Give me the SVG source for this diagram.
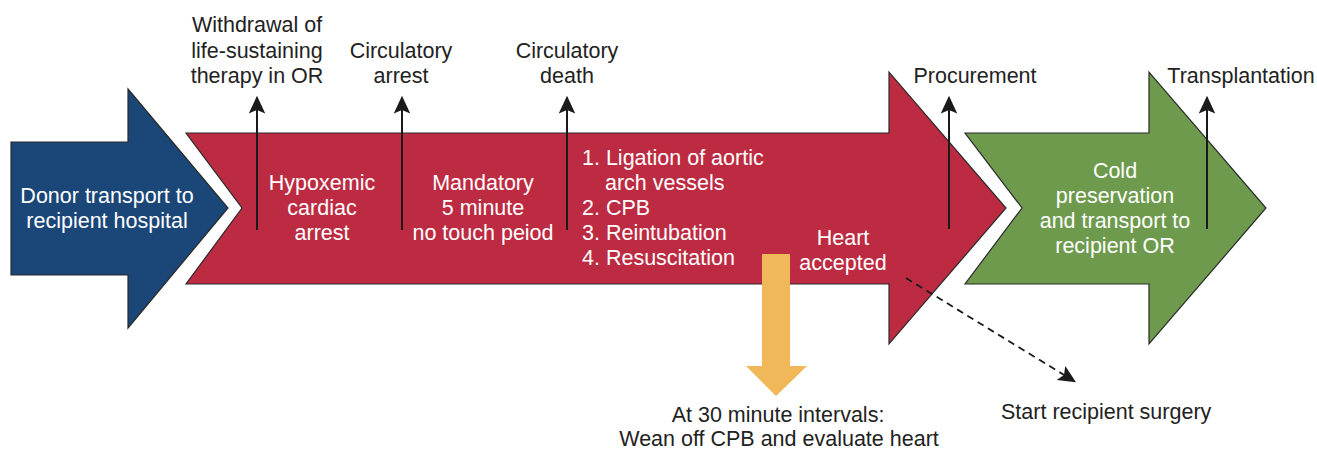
<svg xmlns="http://www.w3.org/2000/svg" width="1317" height="450" viewBox="0 0 1317 450">
  <style>
    .stage { stroke: #2a2a2a; stroke-width: 1.2; stroke-linejoin: miter; }
    .donor { fill: #1b4678; }
    .dcd { fill: #bd2b42; }
    .cold { fill: #6e9a4d; }
    .lbl { font-family: "Liberation Sans", Arial, sans-serif; font-size: 21.5px; fill: #222; text-anchor: middle; }
    .in { font-family: "Liberation Sans", Arial, sans-serif; font-size: 21.5px; fill: #ffffff; text-anchor: middle; }
    .list { text-anchor: start; }
    .event { stroke: #1a1a1a; stroke-width: 2; fill: none; marker-end: url(#head); }
    .dash { stroke: #1a1a1a; stroke-width: 1.8; fill: none; stroke-dasharray: 7 5; marker-end: url(#head); }
  </style>
  <defs>
    <marker id="head" markerUnits="userSpaceOnUse" markerWidth="20" markerHeight="20" viewBox="-16 -8 17 16" refX="-7" refY="0" orient="auto">
      <path d="M0,0 L-15,-7 L-12,0 L-15,7 Z" fill="#1a1a1a"/>
    </marker>
  </defs>

  <!-- stage 1: donor transport -->
  <g id="donor-transport">
    <path class="stage donor" d="M11,142 H128 V89 L228,208 L128,328 V275 H11 Z"/>
    <text class="in" x="107" y="203">Donor transport to</text>
    <text class="in" x="107" y="228">recipient hospital</text>
  </g>

  <!-- stage 2: withdrawal, arrest and normothermic regional perfusion -->
  <g id="dcd-procedure">
    <path class="stage dcd" d="M186,133 H889 V72 L1006,208 L889,344 V284 H186 L242,208 Z"/>
    <text class="in" x="322" y="190">Hypoxemic</text>
    <text class="in" x="322" y="215">cardiac</text>
    <text class="in" x="322" y="240">arrest</text>
    <text class="in" x="483" y="190">Mandatory</text>
    <text class="in" x="483" y="215">5 minute</text>
    <text class="in" x="483" y="240">no touch peiod</text>
    <text class="in list" x="582" y="165">1. Ligation of aortic</text>
    <text class="in list" x="605" y="190">arch vessels</text>
    <text class="in list" x="582" y="215">2. CPB</text>
    <text class="in list" x="582" y="240">3. Reintubation</text>
    <text class="in list" x="582" y="265">4. Resuscitation</text>
    <text class="in" x="843" y="245">Heart</text>
    <text class="in" x="843" y="270">accepted</text>
  </g>

  <!-- stage 3: cold storage -->
  <g id="cold-preservation">
    <path class="stage cold" d="M965,133 H1149 V72 L1266,208 L1149,344 V284 H965 L1022,208 Z"/>
    <text class="in" x="1115" y="178">Cold</text>
    <text class="in" x="1115" y="203">preservation</text>
    <text class="in" x="1115" y="228">and transport to</text>
    <text class="in" x="1115" y="253">recipient OR</text>
  </g>

  <!-- repeated weaning trials -->
  <g id="wean-trials">
    <path fill="#f0b858" d="M762,254 H790 V366 H807 L776,396 L746,366 H762 Z"/>
    <text class="lbl" x="778" y="422">At 30 minute intervals:</text>
    <text class="lbl" x="779" y="446">Wean off CPB and evaluate heart</text>
  </g>

  <g id="recipient-surgery">
    <text class="lbl list" x="1001" y="419">Start recipient surgery</text>
  </g>

  <!-- timeline events -->
  <g id="event-labels">
    <text class="lbl" x="257" y="32">Withdrawal of</text>
    <text class="lbl" x="257" y="58">life-sustaining</text>
    <text class="lbl" x="257" y="83">therapy in OR</text>
    <text class="lbl" x="401" y="58">Circulatory</text>
    <text class="lbl" x="401" y="83">arrest</text>
    <text class="lbl" x="567" y="58">Circulatory</text>
    <text class="lbl" x="567" y="83">death</text>
    <text class="lbl" x="975" y="83">Procurement</text>
    <text class="lbl" x="1241" y="83">Transplantation</text>
  </g>

  <g id="connectors">
    <line class="event" x1="257" y1="230" x2="257" y2="104"/>
    <line class="event" x1="402" y1="230" x2="402" y2="104"/>
    <line class="event" x1="567" y1="230" x2="567" y2="104"/>
    <line class="event" x1="949" y1="229" x2="949" y2="104"/>
    <line class="event" x1="1207" y1="229" x2="1207" y2="104"/>
    <line class="dash" x1="906" y1="278" x2="1069" y2="378"/>
  </g>
</svg>
